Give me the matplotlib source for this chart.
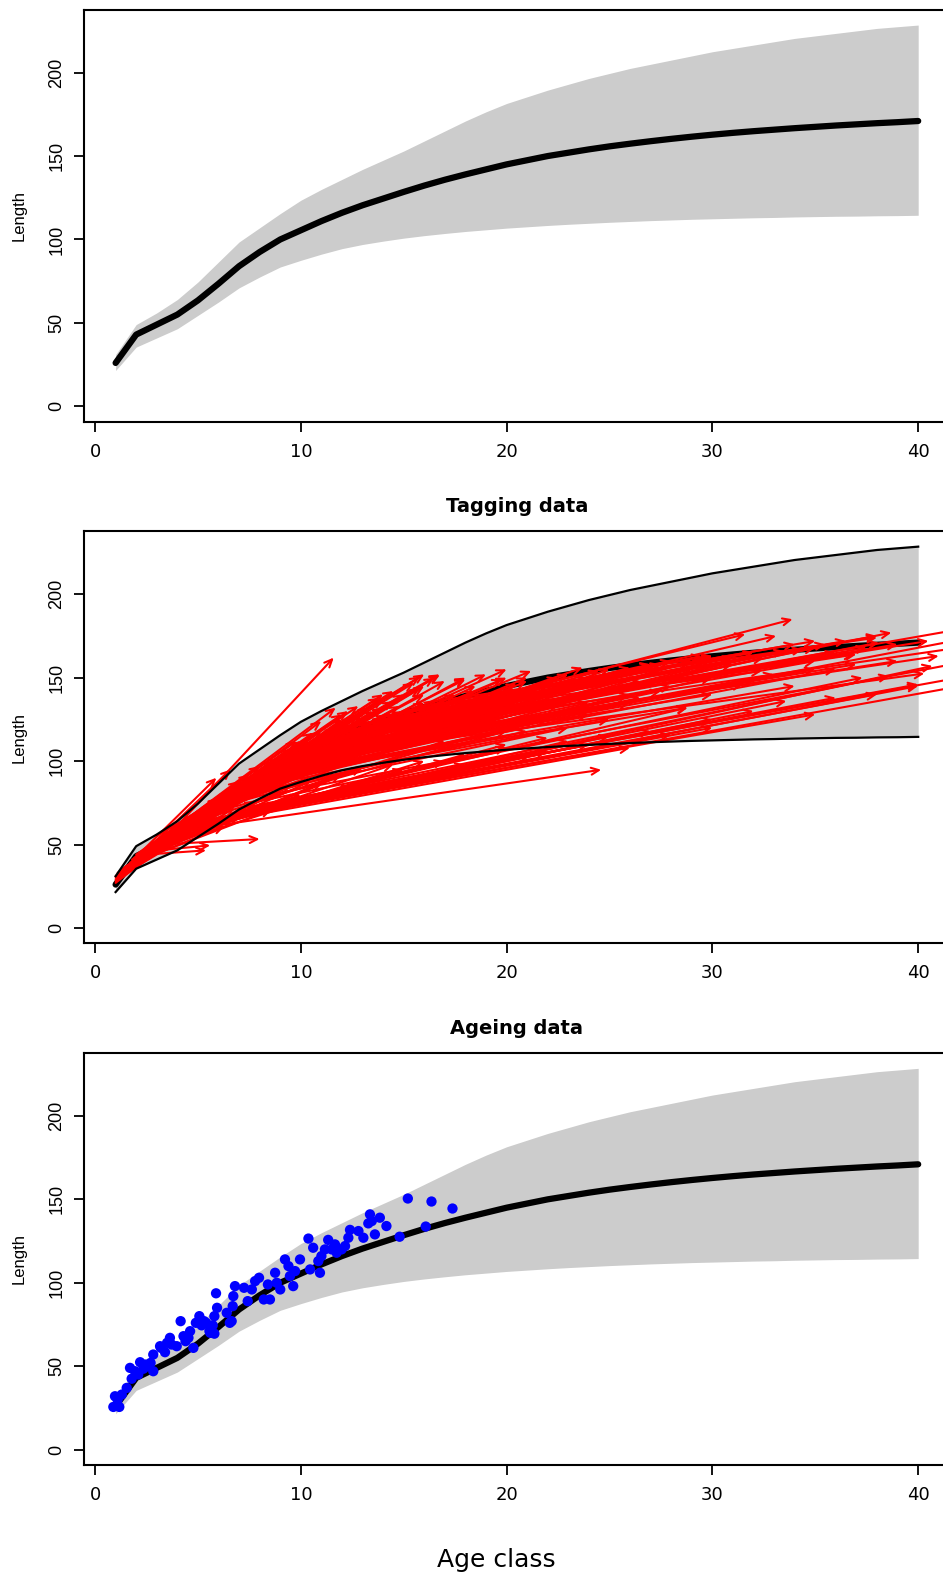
import matplotlib
matplotlib.use("Agg")
import matplotlib.pyplot as plt
from matplotlib.patches import FancyArrowPatch

# Age classes and fitted growth curve with its band
ages = list(range(1, 41))
mean_len = [26, 43, 49, 55, 63.5, 73.5, 84, 92.5, 100, 105.5,
            111, 116, 120.5, 124.5, 128.5, 132.3, 135.8, 139, 142, 145,
            147.5, 150, 152, 154, 155.8, 157.4, 158.9, 160.3, 161.6, 162.8,
            163.9, 164.9, 165.8, 166.7, 167.5, 168.3, 169, 169.7, 170.3, 171]
lower_len = [21.5, 35.5, 41, 46.5, 54.5, 62.5, 71, 77.5, 83.5, 87.5,
             91.2, 94.5, 97, 99, 100.8, 102.3, 103.6, 104.8, 105.8, 106.8,
             107.6, 108.4, 109.1, 109.7, 110.3, 110.8, 111.3, 111.7, 112.1, 112.4,
             112.7, 113, 113.2, 113.5, 113.7, 113.9, 114, 114.2, 114.3, 114.5]
upper_len = [31, 49, 56, 64, 74.5, 86.5, 98.5, 107, 115.5, 123.5,
             130, 136, 142, 147.5, 153, 159, 165, 171, 176.5, 181.5,
             185.5, 189.5, 193, 196.5, 199.5, 202.5, 205, 207.5, 210, 212.5,
             214.5, 216.5, 218.5, 220.5, 222, 223.5, 225, 226.5, 227.5, 228.5]

# Tagging data: (release age, release length, recapture age, recapture length)
tag_arrows = [
    (1.0, 29, 3.0, 50), (1.0, 31, 4.2, 62), (1.1, 33, 5.0, 68), (1.2, 30, 2.9, 47),
    (1.2, 34, 3.8, 58), (1.3, 32, 6.0, 78), (1.4, 35, 5.5, 72), (1.5, 36, 4.6, 64),
    (2.5, 44, 5.4, 46.5), (2.6, 46, 5.6, 49.5), (3.2, 50, 8.0, 53.3),
    (1.7, 38, 7.0, 88), (1.8, 40, 6.6, 82), (2.2, 45, 5.9, 90), (2.6, 48, 6.6, 95),
    (2.0, 40, 7.5, 92), (2.0, 43, 8.0, 97), (2.1, 41, 8.6, 100), (2.2, 44, 9.4, 107),
    (2.3, 42, 9.0, 96), (2.4, 46, 10.0, 112), (2.5, 47, 10.6, 117), (2.6, 45, 11.7, 120),
    (2.8, 50, 11.7, 132), (3.0, 52, 12.8, 127), (3.0, 55, 13.3, 132), (3.2, 54, 12.0, 118),
    (3.0, 48, 11.6, 162), (1.5, 37, 6.3, 61), (1.8, 39, 8.6, 71), (2.0, 41, 7.0, 66),
    (1.4, 35, 7.8, 76), (1.9, 40, 9.5, 85), (2.7, 47, 9.0, 88), (1.1, 30, 6.8, 72),
    (1.3, 33, 8.2, 85), (1.6, 36, 9.2, 94), (1.0, 28, 7.5, 83), (1.2, 32, 10.0, 104),
    (1.5, 35, 10.8, 110), (1.8, 38, 11.5, 116), (2.0, 40, 12.5, 122), (2.3, 44, 13.2, 126),
    (3.5, 56, 14.8, 133), (3.5, 53, 13.0, 112), (3.8, 58, 15.0, 125), (4.0, 60, 14.0, 137),
    (4.0, 62, 15.8, 150.6), (4.2, 63, 16.0, 140), (4.5, 64, 15.8, 143.6), (4.5, 66, 16.75, 151.5),
    (4.8, 67, 17.0, 135), (5.0, 70, 16.75, 152), (5.0, 68, 18.0, 149), (5.2, 72, 18.5, 142),
    (5.5, 74, 20.0, 155), (5.5, 72, 19.0, 130), (5.8, 76, 21.2, 154), (6.0, 78, 19.8, 149),
    (6.0, 76, 20.5, 140), (6.2, 80, 22.0, 145), (6.5, 82, 23.7, 156), (6.5, 80, 22.5, 133),
    (6.8, 85, 24.0, 150), (7.0, 86, 25.5, 152), (7.0, 84, 24.0, 128), (7.3, 88, 26.0, 145),
    (7.5, 90, 27.0, 158), (7.5, 88, 26.5, 138), (8.0, 92, 28.0, 150), (8.0, 90, 28.8, 132),
    (4.0, 58, 24.6, 94.8), (4.5, 60, 21.2, 103.6), (5.0, 62, 20.0, 108), (5.5, 64, 22.0, 114),
    (3.8, 56, 18.0, 98), (6.5, 66, 43.0, 147), (7.0, 68, 40.7, 157), (7.0, 70, 33.6, 136),
    (7.5, 72, 38.6, 151), (8.0, 76, 37.3, 150), (6.5, 68, 28.8, 132), (8.5, 80, 42.5, 160),
    (9.0, 95, 43.0, 175), (9.0, 100, 40.3, 152.5), (9.5, 104, 38.1, 171), (10.0, 105, 38.7, 177),
    (10.0, 108, 33.9, 185), (10.5, 110, 33.1, 175), (11.0, 114, 31.6, 176), (11.0, 112, 42.5, 180),
    (11.5, 116, 37.0, 164), (12.0, 118, 34.4, 167), (12.0, 120, 32.4, 154), (12.5, 122, 36.9, 164),
    (9.0, 98, 30.0, 140), (8.5, 94, 29.0, 155), (9.5, 102, 31.0, 158), (10.0, 100, 32.0, 148),
    (10.5, 106, 35.0, 160), (8.0, 90, 34.0, 145), (9.0, 92, 36.0, 155), (11.0, 110, 28.0, 160),
    (12.0, 115, 30.0, 162), (13.0, 120, 27.0, 158), (13.5, 125, 29.5, 163), (14.0, 125, 32.0, 165),
    (8.0, 85, 25.0, 125), (8.5, 88, 26.0, 135), (9.5, 96, 27.5, 142), (10.0, 98, 24.0, 135),
    (10.5, 104, 26.5, 148), (11.0, 108, 22.0, 140), (11.5, 112, 25.0, 150), (12.0, 110, 23.0, 145),
    (7.5, 80, 23.0, 120), (8.0, 82, 21.0, 118), (9.0, 88, 22.0, 125), (6.0, 70, 20.0, 118),
    (6.5, 74, 21.5, 125), (7.0, 76, 18.0, 122), (5.5, 66, 17.0, 112), (4.2, 60, 26.0, 108),
    (5.0, 63, 30.0, 120), (6.0, 66, 35.0, 128), (5.5, 65, 38.0, 140), (4.8, 62, 40.0, 145),
    # young fish, short to medium time at liberty
    (1.0, 27, 5.5, 70), (1.0, 30, 6.2, 76), (1.1, 31, 8.8, 98), (1.1, 29, 9.6, 100),
    (1.2, 33, 7.2, 84), (1.3, 31, 11.0, 118), (1.3, 34, 9.8, 108), (1.4, 33, 12.0, 125),
    (1.4, 36, 8.5, 93), (1.5, 34, 13.0, 128), (1.6, 37, 10.4, 112), (1.6, 35, 11.3, 114),
    (1.7, 36, 12.2, 120), (1.7, 39, 9.0, 102), (1.8, 37, 13.5, 130), (1.8, 41, 7.8, 90),
    (1.9, 39, 10.2, 106), (1.9, 42, 12.0, 128), (2.0, 39, 14.0, 132), (2.0, 44, 9.8, 112),
    (2.1, 43, 11.0, 124), (2.1, 40, 13.0, 120), (2.2, 42, 14.5, 136), (2.2, 41, 10.5, 100),
    (2.3, 45, 12.3, 130), (2.3, 43, 15.0, 140), (2.4, 44, 11.5, 108), (2.4, 47, 13.8, 138),
    (2.5, 45, 16.0, 145), (2.5, 48, 12.8, 133), (2.6, 46, 14.2, 128), (2.7, 49, 15.5, 147),
    (2.7, 46, 12.0, 112), (2.8, 48, 16.5, 150), (2.8, 50, 14.0, 140), (2.9, 49, 13.5, 122),
    (3.0, 51, 17.0, 148), (3.0, 50, 15.0, 130), (3.1, 53, 16.0, 152), (3.2, 52, 18.0, 150),
    (3.3, 55, 14.5, 142), (3.4, 54, 17.5, 140), (3.5, 57, 19.0, 152), (3.6, 56, 16.0, 135),
    (3.7, 58, 20.0, 150), (3.8, 60, 18.5, 145), (3.9, 59, 21.0, 148), (4.0, 61, 19.5, 138),
    # slow growers below the lower curve
    (2.0, 40, 9.0, 82), (2.2, 42, 10.5, 88), (2.5, 44, 12.0, 92), (2.8, 46, 11.0, 86),
    (3.0, 48, 13.0, 96), (3.2, 50, 14.5, 98), (3.5, 52, 16.0, 100), (3.8, 54, 15.0, 95),
    (4.0, 56, 18.0, 104), (4.2, 57, 20.0, 110), (4.5, 59, 17.0, 100), (4.8, 60, 23.0, 112),
    (5.0, 61, 25.0, 115), (5.2, 62, 22.0, 106), (5.5, 63, 27.0, 118), (5.8, 64, 24.0, 110),
    (6.0, 65, 30.0, 125), (6.2, 66, 28.0, 116), (6.5, 67, 32.0, 130), (7.0, 70, 36.0, 138),
    (7.5, 72, 40.0, 146), (8.0, 74, 42.0, 150), (3.0, 47, 10.0, 80), (2.5, 43, 8.0, 74),
    (3.5, 50, 12.5, 85),
    # older fish, long time at liberty
    (5.0, 68, 21.0, 150), (5.5, 72, 23.0, 152), (6.0, 75, 25.0, 155), (6.5, 78, 26.5, 150),
    (7.0, 82, 27.5, 158), (7.5, 85, 29.0, 160), (8.0, 88, 30.0, 163), (8.5, 92, 31.0, 160),
    (9.0, 96, 32.5, 162), (9.5, 100, 33.5, 166), (10.0, 103, 35.0, 168), (10.5, 107, 36.0, 165),
    (11.0, 110, 37.5, 168), (11.5, 113, 39.0, 170), (12.0, 116, 40.5, 172), (12.5, 118, 35.5, 170),
    (13.0, 122, 38.0, 175), (13.5, 124, 36.5, 172), (14.0, 127, 34.0, 170), (9.0, 94, 19.0, 138),
    (9.5, 98, 20.5, 146), (10.0, 101, 22.5, 150), (10.5, 104, 24.5, 154), (11.0, 107, 26.0, 156),
    (11.5, 110, 27.5, 158), (12.0, 113, 29.0, 160), (12.5, 116, 31.0, 162), (13.0, 118, 28.5, 150),
    (6.0, 72, 17.0, 128), (6.5, 75, 18.5, 134), (7.0, 78, 20.0, 140), (7.5, 82, 21.5, 142),
    (8.0, 86, 23.0, 146), (8.5, 89, 24.5, 148), (9.0, 90, 26.0, 140), (9.5, 93, 28.0, 145),
    (10.0, 96, 30.0, 150), (10.5, 99, 31.5, 146), (11.0, 102, 33.0, 152), (11.5, 105, 35.0, 155),
    (12.0, 108, 37.0, 158), (12.5, 110, 39.0, 160), (13.0, 112, 41.0, 163), (14.0, 118, 42.0, 168),
    (15.0, 130, 35.0, 172), (16.0, 135, 38.0, 174), (15.5, 132, 30.0, 163),
]

# Ageing data: age and length of aged fish
age_obs = [0.89, 1.18, 0.97, 1.3, 1.54, 1.78, 1.7, 1.94, 2.19, 2.35, 2.5, 2.83, 2.83,
           3.16, 3.4, 3.64, 3.72, 3.97, 4.16, 4.54, 4.62, 4.78, 5.07, 5.18, 5.4, 5.56,
           5.72, 5.8, 5.88, 5.93, 5.8, 6.64, 6.69, 6.72, 6.8, 7.24, 7.42, 7.62, 7.78,
           7.97, 8.2, 8.4, 1.1, 2.1, 2.45, 2.7, 3.2, 3.5, 4.3, 4.4, 4.9, 5.3, 5.6, 6.4, 6.55,
           8.5, 8.75, 8.83, 9.0, 9.23, 9.4, 9.47, 9.63, 9.72, 9.96, 10.37, 10.45, 10.6,
           10.93, 10.85, 11.0, 11.17, 11.33, 11.5, 11.66, 11.74, 11.98, 12.15, 12.31,
           12.39, 12.8, 13.04, 13.28, 13.36, 13.45, 13.6, 13.84, 14.16, 14.8, 15.2,
           16.07, 16.35, 17.37]
len_obs = [25.6, 25.6, 32, 33, 37, 42.5, 49, 47, 52.4, 48.5, 50, 47, 57,
           62, 58.4, 67, 63, 62, 77, 67, 71, 61, 80, 74.5, 76, 71,
           74.5, 80, 93.7, 85, 69.5, 77, 86, 92, 98, 97, 89, 96, 101,
           103, 90, 99, 30, 45, 51, 52, 61, 64, 68, 65, 76, 77, 70, 82, 76,
           90, 106, 100, 96, 114, 110, 104, 98, 107, 114, 126.5, 108, 121,
           106, 113, 116, 120, 125.7, 120, 123, 118, 120, 122, 127,
           131.7, 131, 127, 135.6, 141, 137, 129, 139, 134, 127.6, 150.5,
           133.7, 148.7, 144.5]

BAND_GREY = "#cccccc"
XLIM = (-0.56, 41.56)
YLIM = (-9.2, 237.7)

fig = plt.figure(figsize=(9.43, 15.77), dpi=100)
W, H = 943.0, 1577.0
left = 83.5 / W
width = (950.3 - 83.5) / W
height = 412.0 / H
bottoms = [1 - 421.7 / H, 1 - 943.3 / H, 1 - 1465.0 / H]
axes = [fig.add_axes([left, b, width, height]) for b in bottoms]


def style_axis(ax):
    ax.set_xlim(*XLIM)
    ax.set_ylim(*YLIM)
    ax.set_xticks([0, 10, 20, 30, 40])
    ax.set_yticks([0, 50, 100, 150, 200])
    ax.tick_params(axis="both", direction="out", length=7, width=1.3, colors="black")
    ax.tick_params(axis="x", pad=8)
    ax.tick_params(axis="y", pad=6)
    for lab in ax.get_xticklabels():
        lab.set_family(["Liberation Sans Narrow", "DejaVu Sans"])
        lab.set_fontsize(13)
    for lab in ax.get_yticklabels():
        lab.set_family(["Liberation Sans", "DejaVu Sans"])
        lab.set_fontsize(13)
        lab.set_rotation(90)
        lab.set_va("center")
    for sp in ax.spines.values():
        sp.set_linewidth(1.5)
    ax.set_ylabel("Length", fontsize=12, family=["Liberation Sans", "DejaVu Sans"], labelpad=16)


# Panel 1: growth curve only
ax1 = axes[0]
ax1.fill_between(ages, lower_len, upper_len, color=BAND_GREY, lw=0)
ax1.plot(ages, mean_len, color="black", lw=4.5, solid_capstyle="round")
style_axis(ax1)

# Panel 2: tagging data
ax2 = axes[1]
ax2.fill_between(ages, lower_len, upper_len, color=BAND_GREY, lw=0, zorder=1)
ax2.plot(ages, mean_len, color="black", lw=4.5, solid_capstyle="round", zorder=2)
for a0, l0, a1, l1 in tag_arrows:
    arr = FancyArrowPatch((a0, l0), (a1, l1), arrowstyle="->,head_length=0.55,head_width=0.25",
                          mutation_scale=10, color="red", lw=1.5, shrinkA=0, shrinkB=0, zorder=3)
    ax2.add_patch(arr)
ax2.plot(ages, lower_len, color="black", lw=1.6, zorder=4)
ax2.plot(ages, upper_len, color="black", lw=1.6, zorder=4)
style_axis(ax2)
ax2.set_title("Tagging data", fontsize=14, fontweight="bold",
              family=["Liberation Sans Narrow", "DejaVu Sans"], pad=14)

# Panel 3: ageing data
ax3 = axes[2]
ax3.fill_between(ages, lower_len, upper_len, color=BAND_GREY, lw=0, zorder=1)
ax3.plot(ages, mean_len, color="black", lw=4.5, solid_capstyle="round", zorder=2)
ax3.scatter(age_obs, len_obs, s=55, color="blue", edgecolors="none", zorder=3)
style_axis(ax3)
ax3.set_title("Ageing data", fontsize=14, fontweight="bold",
              family=["Liberation Sans Narrow", "DejaVu Sans"], pad=14)

fig.text(496 / W, 1 - 1560 / H, "Age class", ha="center", va="center", fontsize=18,
         family=["Liberation Sans Narrow", "DejaVu Sans"])

fig.savefig("out.png", dpi=100)
